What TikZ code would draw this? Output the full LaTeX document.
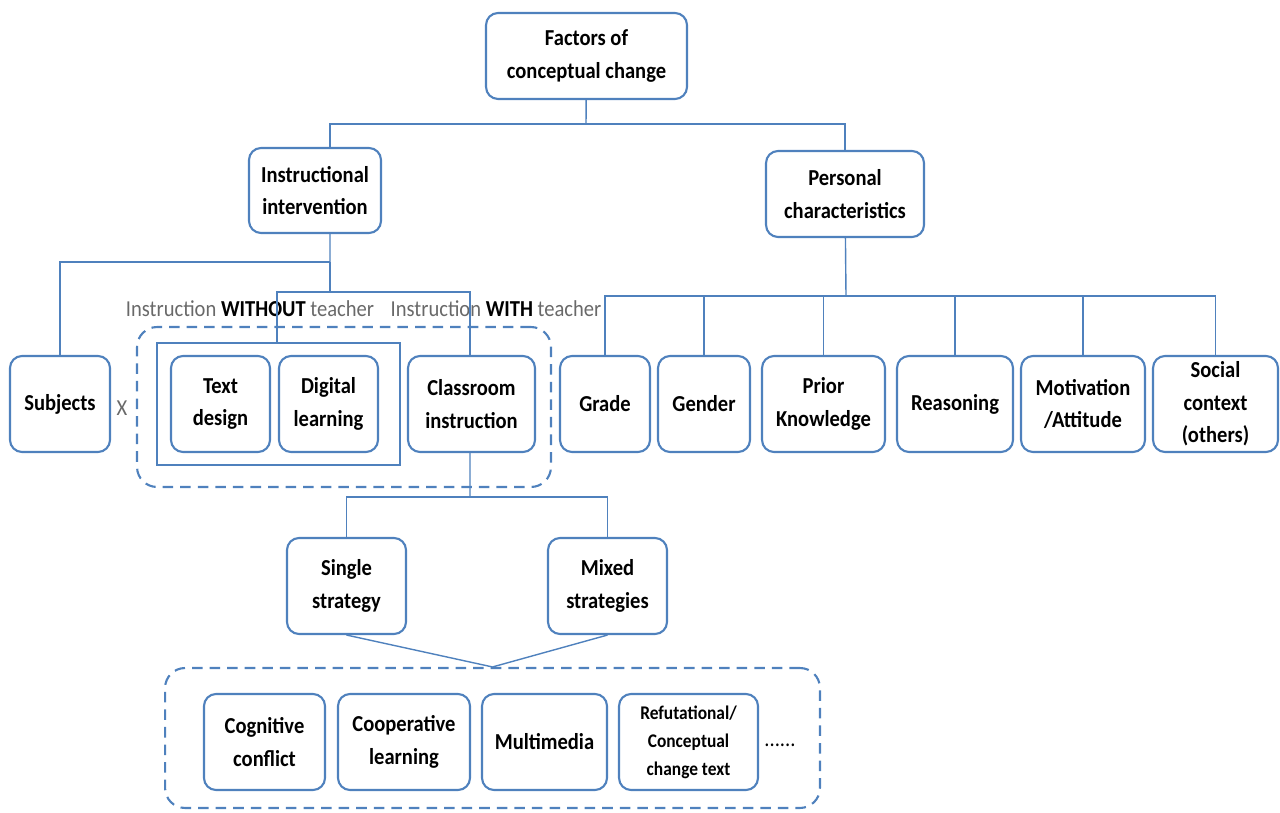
\documentclass[tikz,border=0pt]{standalone}
\usepackage{fontspec}
\setmainfont[FakeStretch=0.9]{Carlito}
\usepackage{xcolor}
\usepackage{tikz}
\usetikzlibrary{positioning, calc}
\definecolor{boxblue}{RGB}{79, 129, 189}
\definecolor{labelgray}{RGB}{105, 105, 105}

\begin{document}
\begin{tikzpicture}[x=0.02cm, y=-0.02cm,
  factor/.style={draw=boxblue, line width=1.2pt, rounded corners=0.24cm, fill=white, align=center,
    font=\fontsize{13}{18.5}\selectfont\bfseries, inner sep=1pt, minimum height=1.92cm},
  link/.style={draw=boxblue, line width=0.8pt},
  group/.style={draw=boxblue, line width=1.2pt, dashed, dash pattern=on 6pt off 4pt, rounded corners=0.4cm},
  side/.style={font=\fontsize{13}{16}\selectfont, text=labelgray}
]
    \useasboundingbox (0,0) rectangle (1280,813);

    % frames behind the boxes
    \node[group, minimum width=8.28cm, minimum height=3.2cm] (teacher) at (344,407) {};
    \node[draw=boxblue, line width=1.2pt, minimum width=4.86cm, minimum height=2.44cm] (noteacher) at (278.5,404) {};
    \node[group, minimum width=13.1cm, minimum height=2.8cm] (strats) at (492.5,738) {};

    \node[factor, minimum width=4.02cm, minimum height=1.72cm] (factors) at (586.5,56) {Factors of\\conceptual change};
    \node[factor, minimum width=2.64cm, minimum height=1.7cm] (instr) at (315,190.5) {Instructional\\intervention};
    \node[factor, minimum width=3.16cm, minimum height=1.72cm] (personal) at (845,194) {Personal\\characteristics};

    \begin{scope}[every node/.append style={factor}]
        \node[minimum width=2.0cm] (subjects) at (60,404) {Subjects};
        \node[minimum width=1.98cm] (textdes) at (220.5,404) {Text\\design};
        \node[minimum width=1.98cm] (digital) at (328.5,404) {Digital\\learning};
        \node[minimum width=2.54cm] (classroom) at (471.5,404) {Classroom\\instruction};
        \node[minimum width=1.8cm] (grade) at (605,404) {Grade};
        \node[minimum width=1.84cm] (gender) at (704,404) {Gender};
        \node[minimum width=2.46cm] (prior) at (823.5,404) {Prior\\Knowledge};
        \node[minimum width=2.32cm] (reasoning) at (955,404) {Reasoning};
        \node[minimum width=2.48cm] (motiv) at (1083,404) {Motivation\\/Attitude};
        \node[minimum width=2.5cm] (social) at (1215.5,404) {Social\\context\\(others)};
        \node[minimum width=2.38cm] (single) at (346.5,586) {Single\\strategy};
        \node[minimum width=2.38cm] (mixed) at (607.5,586) {Mixed\\strategies};
        \node[minimum width=2.42cm] (cognitive) at (264.5,742) {Cognitive\\conflict};
        \node[minimum width=2.64cm] (cooperative) at (404,742) {Cooperative\\learning};
        \node[minimum width=2.5cm] (multimedia) at (544.5,742) {Multimedia};
        \node[minimum width=2.78cm, font=\fontsize{11}{16}\selectfont\bfseries] (refut) at (688.5,742) {Refutational/\\Conceptual\\change text};
    \end{scope}

    \node[side] (without) at (250,309) {Instruction \textcolor{black}{\textbf{WITHOUT}} teacher};
    \node[side] (with) at (496,309) {Instruction \textcolor{black}{\textbf{WITH}} teacher};
    \node[side] (times) at (122,408) {X};
    \node[font=\fontsize{13}{16}\selectfont] (more) at (780,745) {......};

    % tree connectors
    \coordinate (top) at (586,124);
    \coordinate (left) at (330,262);
    \coordinate (mid) at (330,292);
    \coordinate (right) at (846,296);
    \coordinate (down) at (470,497);

    \draw[link] (factors) -- (top);
    \draw[link] (top) -| ([xshift=0.3cm]instr.north);
    \draw[link] (top) -| (personal);
    \draw[link] ([xshift=0.3cm]instr.south) -- (left);
    \draw[link] (left) -| (subjects);
    \draw[link] (left) -- (mid);
    \draw[link] (mid) -| ([xshift=-0.03cm]noteacher.north);
    \draw[link] (mid) -| ([xshift=-0.03cm]classroom.north);
    \draw[link] (personal) -- (right);
    \foreach \n in {grade, gender, prior, reasoning, motiv, social}
        \draw[link] (right) -| (\n);
    \draw[link] ([xshift=-0.03cm]classroom.south) -- (down);
    \draw[link] (down) -| (single);
    \draw[link] (down) -| (mixed);
    \draw[link] (single.south) -- (strats.north);
    \draw[link] (mixed.south) -- (strats.north);
\end{tikzpicture}
\end{document}
